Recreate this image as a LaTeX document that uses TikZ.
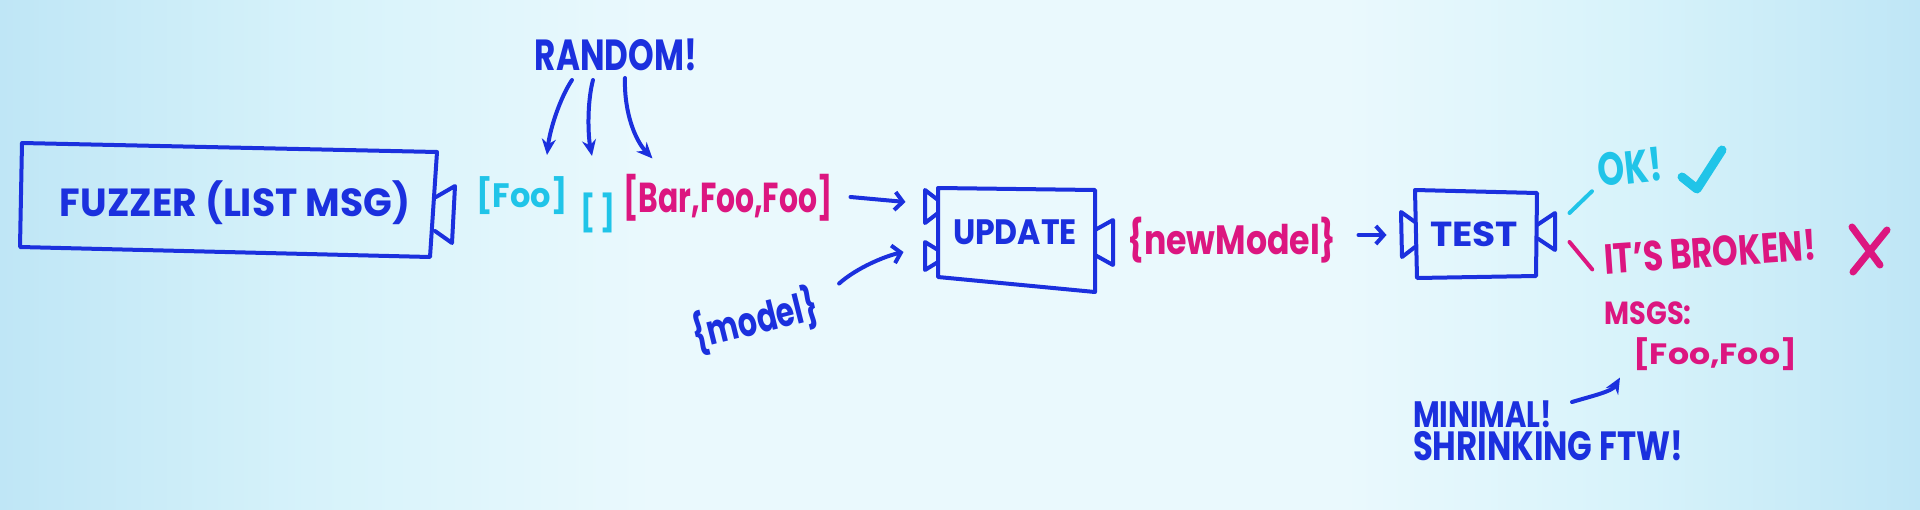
\documentclass[tikz,border=0pt]{standalone}
\usepackage{fontspec}
\setmainfont{Poppins}
\usetikzlibrary{arrows.meta,calc}
\definecolor{ink}{HTML}{1B30DE}
\definecolor{cyanink}{HTML}{20C4E8}
\definecolor{magink}{HTML}{DC1680}
\definecolor{bgin}{HTML}{EAF9FD}
\definecolor{bgmid}{HTML}{D6F2FA}
\definecolor{bgout}{HTML}{BFE6F6}
\newcommand\hw[3]{\resizebox*{#1pt}{#2pt}{\bfseries #3}}
\pgfdeclarehorizontalshading{wboard}{100bp}{color(0bp)=(bgout); color(25bp)=(bgout); color(33bp)=(bgmid); color(42bp)=(bgin); color(60bp)=(bgin); color(68bp)=(bgmid); color(75bp)=(bgout); color(100bp)=(bgout)}
\begin{document}
\begin{tikzpicture}[x=1pt,y=-1pt,
  txt/.style={inner sep=0pt, outer sep=0pt},
  pen/.style={line width=4pt, line cap=round, line join=round},
  boxpen/.style={pen, draw=ink},
  arr/.style={pen, draw=ink, -{Straight Barb[length=8pt,width=18pt]}},
  farr/.style={pen, draw=ink, -{Stealth[length=16pt,width=14pt]}}
]
\useasboundingbox (0,0) rectangle (1920,509);
\shade[shading=wboard] (0,0) rectangle (1920,509);

% FUZZER box
\node[txt, text=ink] (fuzzer) at (235,203) {\hw{350}{44}{FUZZER (LIST MSG)}};
\draw[boxpen] (22,143) -- (437,152) -- (430,257) -- (20,247) -- cycle;
\draw[boxpen] (436,197) -- (455,186) -- (452,243) -- (435,231);

% random lists
\node[txt, text=cyanink] (foo) at (522,196) {\hw{91}{38}{[Foo]}};
\node[txt, text=cyanink] (empty) at (598,213) {\hw{35}{40}{[\,]}};
\node[txt, text=magink] (bar) at (728,198) {\hw{209}{47}{[Bar,Foo,Foo]}};
\node[txt, text=ink] (random) at (616,55) {\hw{162}{32}{RANDOM!}};

\draw[farr] ($(random.south west)+(37,9)$) .. controls +(-12,18) and +(3,-26) .. ($(foo.north)+(25,-22)$);
\draw[farr] ($(random.south west)+(58,9)$) .. controls +(-6,23) and +(-4,-21) .. ($(empty.north)+(-6,-37)$);
\draw[farr] ($(random.south west)+(90,7)$) .. controls +(-1,35) and +(-17,-18) .. ($(bar.north west)+(29,-16)$);

% UPDATE box
\node[txt, text=ink, minimum width=157pt, minimum height=100pt] (update) at (1015,232) {\hw{124}{25}{UPDATE}};
\draw[boxpen] (938,188) -- (1095,190) -- (1095,292) -- (938,277) -- cycle;
\draw[boxpen] (938,200) -- (925,190) -- (925,223) -- (938,213);
\draw[boxpen] (938,250) -- (925,242) -- (925,270) -- (938,262);
\draw[boxpen] (1095,230) -- (1113,220) -- (1113,265) -- (1095,255);

\draw[arr] ($(bar.east)+(18,-1)$) -- ($(update.west)+(-31,-30)$);

\node[txt, text=ink, rotate=14] (model) at (755,320) {\hw{128}{46}{\{model\}}};
\draw[arr] ($(model.east)+(22,-21)$) .. controls +(18,-16) and +(-18,4) .. ($(update.west)+(-33,20)$);

% newModel
\node[txt, text=magink] (newmodel) at (1232,240) {\hw{209}{46}{\{newModel\}}};

% TEST box
\node[txt, text=ink, minimum width=123pt, minimum height=88pt] (test) at (1474,234) {\hw{88}{25}{TEST}};
\draw[boxpen] (1415,190) -- (1537,193) -- (1536,276) -- (1417,278) -- cycle;
\draw[boxpen] (1415,222) -- (1401,212) -- (1402,257) -- (1415,247);
\draw[boxpen] (1537,225) -- (1555,213) -- (1555,250) -- (1537,238);

\draw[arr] ($(newmodel.east)+(22,-5)$) -- ($(test.west)+(-26,1)$);

% results
\node[txt, text=cyanink, rotate=6] (ok) at (1630,167) {\hw{64}{34}{OK!}};
\node[txt, text=magink, rotate=4] (broken) at (1710,252) {\hw{212}{31}{IT'S BROKEN!}};
\draw[pen, cyanink] ($(test.east)+(34,-21)$) -- ($(ok.south west)+(-8,4)$);
\draw[pen, magink] ($(test.east)+(34,8)$) -- ($(broken.west)+(-12,10)$);

\draw[cyanink, line width=9pt, line cap=round, line join=round] (1682,177) -- (1697,189) -- (1722,150);
\draw[magink, line width=7pt, line cap=round] (1852,227) -- (1880,265) (1887,230) -- (1853,272);

\node[txt, text=magink] (msgs) at (1648,313) {\hw{87}{23}{MSGS:}};
\node[txt, text=magink] (msglist) at (1715,354) {\hw{164}{33}{[Foo,Foo]}};

\node[txt, text=ink, anchor=west] (minimal) at (1413,414) {\hw{139}{27}{MINIMAL!}};
\node[txt, text=ink, anchor=west] (shrinking) at (1413,446) {\hw{270}{30}{SHRINKING FTW!}};
\draw[farr] ($(minimal.east)+(20,-12)$) .. controls +(20,-6) and +(-8,14) .. ($(msglist.south west)+(-13,7)$);
\end{tikzpicture}
\end{document}
